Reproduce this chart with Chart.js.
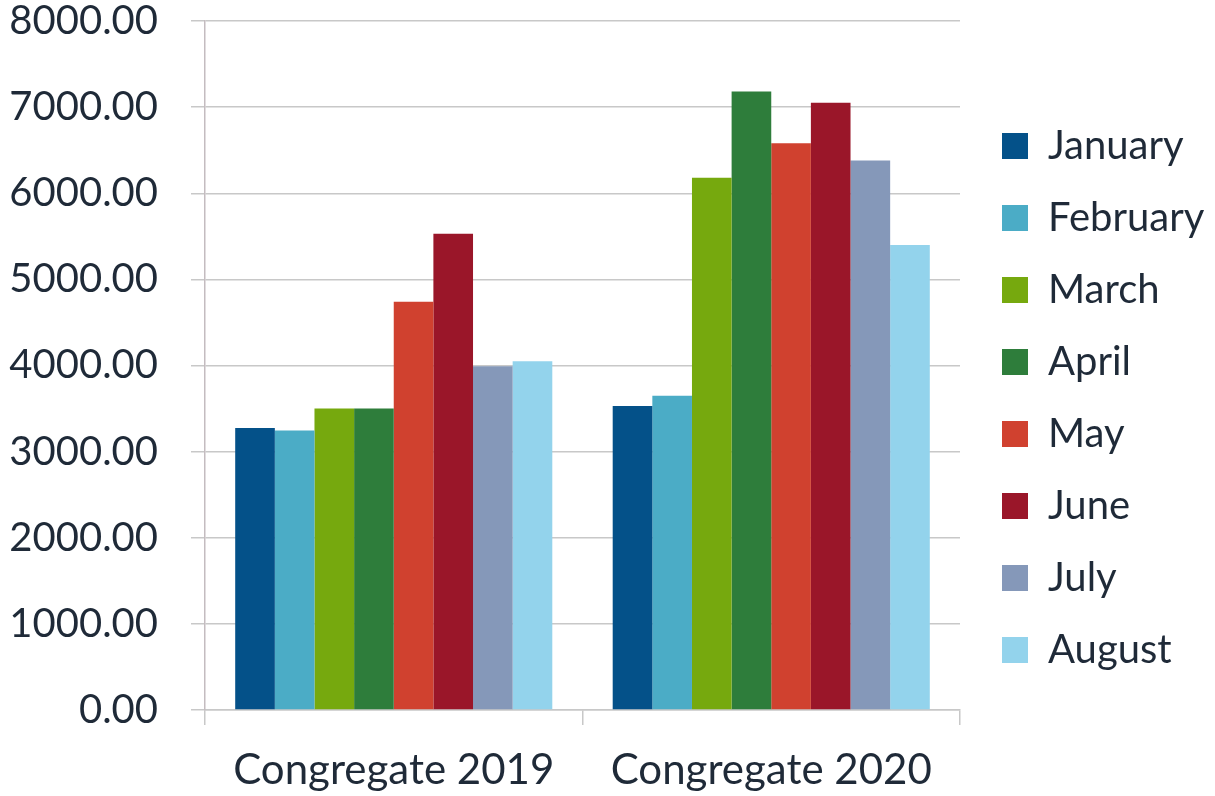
<!DOCTYPE html>
<html>
<head>
<meta charset="utf-8">
<script src="https://cdn.jsdelivr.net/npm/chart.js@4/dist/chart.umd.min.js"></script>
<style>
  html, body { margin: 0; padding: 0; background: #fff; }
  #wrap { width: 1215px; height: 796px; position: relative; }
</style>
</head>
<body>
<div id="wrap"><canvas id="chart"></canvas></div>
<script>
const categories = ['Congregate 2019', 'Congregate 2020'];
const months = ['January', 'February', 'March', 'April', 'May', 'June', 'July', 'August'];
const values2019 = [3275, 3245, 3500, 3500, 4740, 5530, 3990, 4050];
const values2020 = [3530, 3650, 6180, 7180, 6580, 7050, 6380, 5400];
const monthColors = ['#045189', '#4bacc6', '#76a90e', '#2e7d3b', '#d0412f', '#9a1629', '#8598b9', '#93d3ec'];

const textColor = '#1f2a38';
const gridColor = '#c8c8c8';
const fontFamily = 'Lato, "Open Sans", sans-serif';

// keep the legend narrow and nudge it right, like the original layout
const legendLayout = {
    id: 'legendLayout',
    afterInit(chart) {
        const fit = chart.legend.fit;
        chart.legend.fit = function () {
            fit.call(this);
            this.width = 255;
        };
    },
    afterLayout(chart) {
        chart.legend.left += 10;
    }
};

const datasets = months.map((m, i) => ({
    label: m,
    data: [values2019[i], values2020[i]],
    backgroundColor: monthColors[i],
    borderWidth: 0,
    categoryPercentage: 0.84,
    barPercentage: 1.0
}));

new Chart(document.getElementById('chart'), {
    type: 'bar',
    data: { labels: categories, datasets: datasets },
    plugins: [legendLayout],
    options: {
        responsive: true,
        maintainAspectRatio: false,
        animation: false,
        layout: { padding: 0 },
        plugins: {
            tooltip: { enabled: false },
            legend: {
                position: 'right',
                labels: {
                    color: textColor,
                    font: { family: fontFamily, size: 40 },
                    boxWidth: 26,
                    boxHeight: 26,
                    padding: 32
                }
            }
        },
        scales: {
            x: {
                grid: {
                    offset: true,
                    drawOnChartArea: false,
                    drawTicks: true,
                    tickLength: 15,
                    color: gridColor,
                    lineWidth: 1.5
                },
                border: { color: gridColor, width: 1.5 },
                ticks: {
                    color: textColor,
                    font: { family: fontFamily, size: 42 },
                    padding: 20
                },
                afterFit(scale) { scale.height = 86; }
            },
            y: {
                min: 0,
                max: 8000,
                ticks: {
                    stepSize: 1000,
                    color: textColor,
                    font: { family: fontFamily, size: 40 },
                    padding: 33,
                    callback: v => v.toFixed(2)
                },
                grid: {
                    color: gridColor,
                    lineWidth: 1.5,
                    tickLength: 14
                },
                border: { color: '#c4bcc0', width: 1.5 },
                afterFit(scale) {
                    scale.width = 205;
                    scale.paddingTop = 21;
                    scale.paddingBottom = 0;
                }
            }
        }
    }
});
</script>
</body>
</html>
